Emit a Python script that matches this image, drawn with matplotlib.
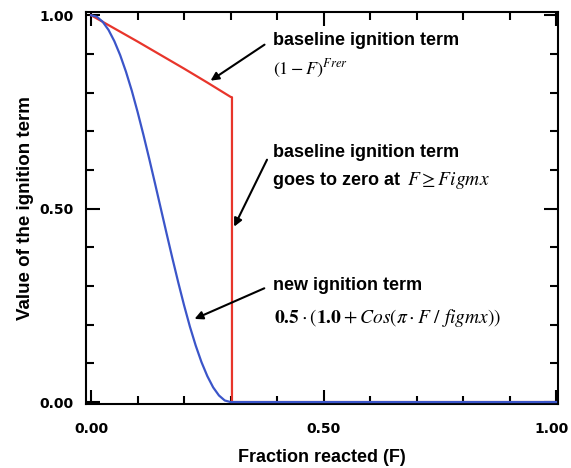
import matplotlib.pyplot as plt
from matplotlib.ticker import MultipleLocator
from matplotlib.transforms import ScaledTranslation

plt.rcParams['font.family'] = ['Liberation Sans', 'DejaVu Sans']
plt.rcParams['mathtext.fontset'] = 'stix'

# values
f_base = [0.0, 0.05, 0.10, 0.15, 0.20, 0.25, 0.30, 0.303, 0.303, 1.0]
base_term = [1.0, 0.966, 0.932, 0.897, 0.862, 0.826, 0.789, 0.788, 0.0, 0.0]

f_new = [0.0, 0.0125, 0.025, 0.0375, 0.05, 0.0625, 0.075, 0.0875, 0.10, 0.1125,
         0.125, 0.1375, 0.15, 0.1625, 0.175, 0.1875, 0.20, 0.2125, 0.225, 0.2375,
         0.25, 0.2625, 0.275, 0.2875, 0.30, 1.0]
new_term = [1.0, 0.996, 0.983, 0.962, 0.933, 0.897, 0.854, 0.805, 0.75, 0.691,
            0.629, 0.565, 0.50, 0.435, 0.371, 0.309, 0.25, 0.195, 0.146, 0.103,
            0.067, 0.038, 0.017, 0.004, 0.0, 0.0]

tick_vals = [0, 0.5, 1.0]
tick_text = ['0.00', '0.50', '1.00']

fig = plt.figure(figsize=(5.71, 4.68), dpi=100)
ax = fig.add_axes([0.1506, 0.1368, 0.8264, 0.8372])

ax.plot(f_base, base_term, color='#e8352b', lw=1.6, zorder=2)
ax.plot(f_new, new_term, color='#3b55c9', lw=1.6, zorder=3)

ax.set_xlim(-0.011, 1.004)
ax.set_ylim(-0.005, 1.008)
ax.set_xticks(tick_vals)
ax.set_yticks(tick_vals)
ax.set_xticklabels(tick_text)
ax.set_yticklabels(tick_text)
ax.xaxis.set_minor_locator(MultipleLocator(0.1))
ax.yaxis.set_minor_locator(MultipleLocator(0.1))
ax.tick_params(which='both', direction='in', top=True, right=True, width=1.5)
ax.tick_params(which='major', length=10)
ax.tick_params(which='minor', length=6)
ax.tick_params(axis='x', which='major', pad=13)
ax.tick_params(axis='y', which='major', pad=9)
for lbl in ax.get_xticklabels() + ax.get_yticklabels():
    lbl.set_fontfamily('DejaVu Sans')
    lbl.set_fontweight('bold')
    lbl.set_fontsize(10)
# keep the last x label inside the figure edge
last = ax.get_xticklabels()[-1]
last.set_transform(last.get_transform() + ScaledTranslation(-4 / 100, 0, fig.dpi_scale_trans))
for s in ax.spines.values():
    s.set_linewidth(1.5)

ax.set_xlabel('Fraction reacted (F)', fontsize=13, fontweight='bold', labelpad=9)
ax.set_ylabel('Value of the ignition term', fontsize=13.5, fontweight='bold', labelpad=4)

tkw = dict(fontsize=13, fontweight='bold', va='center', ha='left')
ax.text(0.391, 0.935, 'baseline ignition term', **tkw)
ax.text(0.391, 0.862, r'$\left(1-F\right)^{Frer}$', fontsize=13, va='center', ha='left')
ax.text(0.391, 0.646, 'baseline ignition term', **tkw)
t = ax.text(0.391, 0.572, 'goes to zero at', **tkw)
ax.annotate(r'$F \geq Figmx$', xy=(1, 0.5), xycoords=t, xytext=(5, 0),
            textcoords='offset points', fontsize=14, va='center', ha='left')
ax.text(0.391, 0.302, 'new ignition term', **tkw)
ax.text(0.394, 0.217, r'$\mathbf{0.5}\cdot\left(\mathbf{1.0}+Cos\left(\pi\cdot F\ /\ figmx\right)\right)$',
        fontsize=14, va='center', ha='left')

akw = dict(arrowstyle='-|>', color='black', lw=1.5, mutation_scale=12)
ax.annotate('', xy=(0.252, 0.827), xytext=(0.378, 0.928), arrowprops=akw)
ax.annotate('', xy=(0.305, 0.447), xytext=(0.381, 0.633), arrowprops=akw)
ax.annotate('', xy=(0.217, 0.212), xytext=(0.378, 0.297), arrowprops=akw)

fig.savefig('out.png', dpi=100)
